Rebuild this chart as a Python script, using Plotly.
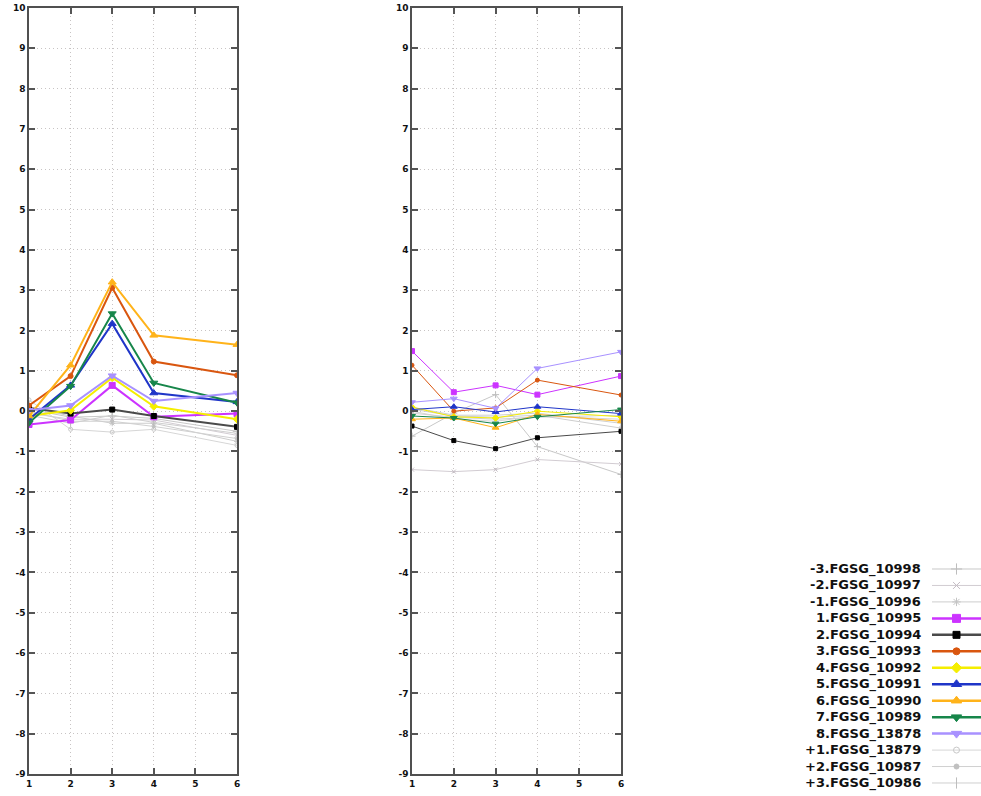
import plotly.graph_objects as go

# ---- data ----
x_pts = [1, 2, 3, 4, 6]

names = ["-3.FGSG_10998", "-2.FGSG_10997", "-1.FGSG_10996",
         "1.FGSG_10995", "2.FGSG_10994", "3.FGSG_10993", "4.FGSG_10992",
         "5.FGSG_10991", "6.FGSG_10990", "7.FGSG_10989", "8.FGSG_13878",
         "+1.FGSG_13879", "+2.FGSG_10987", "+3.FGSG_10986"]

left_vals = {
    "-3.FGSG_10998": [0.05, -0.15, -0.12, -0.18, -0.50],
    "-2.FGSG_10997": [-0.05, -0.20, -0.20, -0.22, -0.60],
    "-1.FGSG_10996": [0.10, -0.12, -0.30, -0.30, -0.75],
    "1.FGSG_10995": [-0.33, -0.22, 0.64, -0.14, -0.06],
    "2.FGSG_10994": [0.08, -0.06, 0.04, -0.12, -0.39],
    "3.FGSG_10993": [0.14, 0.87, 3.06, 1.23, 0.89],
    "4.FGSG_10992": [-0.12, 0.02, 0.83, 0.12, -0.20],
    "5.FGSG_10991": [-0.20, 0.64, 2.17, 0.45, 0.23],
    "6.FGSG_10990": [-0.12, 1.14, 3.20, 1.88, 1.65],
    "7.FGSG_10989": [-0.29, 0.62, 2.42, 0.70, 0.21],
    "8.FGSG_13878": [0.02, 0.14, 0.88, 0.25, 0.45],
    "+1.FGSG_13879": [0.28, -0.45, -0.52, -0.45, -0.85],
    "+2.FGSG_10987": [0.00, -0.25, -0.25, -0.38, -0.68],
    "+3.FGSG_10986": [-0.10, -0.30, -0.10, -0.28, -0.55],
}

right_vals = {
    "-3.FGSG_10998": [-0.62, -0.05, 0.41, -0.88, -1.57],
    "-2.FGSG_10997": [-1.45, -1.50, -1.45, -1.20, -1.31],
    "-1.FGSG_10996": [0.05, -0.12, -0.15, -0.10, -0.42],
    "1.FGSG_10995": [1.49, 0.47, 0.64, 0.41, 0.87],
    "2.FGSG_10994": [-0.37, -0.73, -0.93, -0.66, -0.50],
    "3.FGSG_10993": [1.14, 0.00, 0.08, 0.77, 0.40],
    "4.FGSG_10992": [0.10, -0.14, -0.17, 0.00, -0.14],
    "5.FGSG_10991": [0.04, 0.11, -0.02, 0.11, -0.06],
    "6.FGSG_10990": [-0.20, -0.17, -0.41, -0.08, -0.25],
    "7.FGSG_10989": [-0.12, -0.17, -0.31, -0.14, 0.04],
    "8.FGSG_13878": [0.22, 0.31, 0.07, 1.06, 1.47],
    "+1.FGSG_13879": [0.00, -0.20, -0.25, -0.12, -0.20],
    "+2.FGSG_10987": [-0.05, -0.15, -0.20, -0.15, -0.10],
    "+3.FGSG_10986": [0.10, -0.10, -0.10, -0.05, -0.30],
}

y_ticks = list(range(-9, 11))
x_ticks = [1, 2, 3, 4, 5, 6]

# ---- styles ----
style = {
    "-3.FGSG_10998": dict(line="#c8c8c8", marker="#bdbdbd", symbol="cross-thin-open", lw=1, ms=6, gray=True),
    "-2.FGSG_10997": dict(line="#d2ccd2", marker="#c4bcc4", symbol="x-thin-open", lw=1, ms=5, gray=True),
    "-1.FGSG_10996": dict(line="#cdcdcd", marker="#c4c4c4", symbol="asterisk-open", lw=1, ms=5, gray=True),
    "1.FGSG_10995": dict(line="#cc33ff", marker="#cc33ff", symbol="square", lw=2, ms=6, gray=False),
    "2.FGSG_10994": dict(line="#4a4a4a", marker="#000000", symbol="square", lw=2, ms=5, gray=False),
    "3.FGSG_10993": dict(line="#d9560f", marker="#d9560f", symbol="circle", lw=2, ms=5, gray=False),
    "4.FGSG_10992": dict(line="#f5ee00", marker="#f5ee00", symbol="diamond", lw=2, ms=6, gray=False),
    "5.FGSG_10991": dict(line="#1f35c8", marker="#1f35c8", symbol="triangle-up", lw=2, ms=7, gray=False),
    "6.FGSG_10990": dict(line="#ffb31a", marker="#ffb31a", symbol="triangle-up", lw=2, ms=7, gray=False),
    "7.FGSG_10989": dict(line="#17864a", marker="#17864a", symbol="triangle-down", lw=2, ms=7, gray=False),
    "8.FGSG_13878": dict(line="#a891ff", marker="#a891ff", symbol="triangle-down", lw=2, ms=7, gray=False),
    "+1.FGSG_13879": dict(line="#d6d6d6", marker="#c8c8c8", symbol="circle-open", lw=1, ms=4, gray=True),
    "+2.FGSG_10987": dict(line="#d0d0d0", marker="#c0c0c0", symbol="circle", lw=1, ms=3, gray=True),
    "+3.FGSG_10986": dict(line="#cfcfcf", marker="#bdbdbd", symbol="line-ns-open", lw=1, ms=6, gray=True),
}

fig = go.Figure()

draw_order = [n for n in names if style[n]["gray"]] + [n for n in names if not style[n]["gray"]]

for n in draw_order:
    s = style[n]
    fig.add_trace(go.Scatter(
        x=x_pts, y=left_vals[n], mode="lines+markers", xaxis="x", yaxis="y",
        line=dict(color=s["line"], width=s["lw"]),
        marker=dict(color=s["marker"], symbol=s["symbol"], size=s["ms"],
                    line=dict(color=s["marker"], width=1)),
        showlegend=False, name=n))
    fig.add_trace(go.Scatter(
        x=x_pts, y=right_vals[n], mode="lines+markers", xaxis="x2", yaxis="y2",
        line=dict(color=s["line"], width=1),
        marker=dict(color=s["marker"], symbol=s["symbol"], size=max(s["ms"] - 1, 3),
                    line=dict(color=s["marker"], width=1)),
        showlegend=False, name=n))

W, H = 981, 796

def fx(px):
    return px / W

def fy(py):
    return 1 - py / H

# ---- custom legend (text left, sample right) ----
for i, n in enumerate(names):
    s = style[n]
    fig.add_trace(go.Scatter(
        x=[0, 0.5, 1], y=[i, i, i], mode="lines", xaxis="x3", yaxis="y3",
        line=dict(color=s["line"], width=s["lw"] + (0.5 if not s["gray"] else 0)),
        showlegend=False, hoverinfo="skip"))
    fig.add_trace(go.Scatter(
        x=[0.5], y=[i], mode="markers", xaxis="x3", yaxis="y3",
        marker=dict(color=s["marker"], symbol=s["symbol"], size=s["ms"] + 2,
                    line=dict(color=s["marker"], width=1)),
        showlegend=False, hoverinfo="skip"))
    fig.add_annotation(text=n, x=fx(923), xref="paper", xanchor="right",
                       y=i, yref="y3", yanchor="middle", showarrow=False,
                       font=dict(family="DejaVu Sans", size=13, color="#111111", weight="bold"))

tickfont = dict(family="DejaVu Sans", size=9, color="#111111", weight="bold")
axis_common = dict(showline=True, linecolor="#505050", linewidth=1.5, mirror="ticks",
                   ticks="inside", ticklen=6, tickwidth=1.5, tickcolor="#555555",
                   showgrid=True, gridcolor="#c8c4c4", griddash="1px,3px", gridwidth=1,
                   zeroline=False, tickfont=tickfont, automargin=False)

def xaxis_cfg(domain, anchor):
    return dict(domain=domain, anchor=anchor, range=[1, 6], tickvals=x_ticks,
                ticktext=[str(v) for v in x_ticks], **axis_common)

def yaxis_cfg(anchor):
    return dict(domain=[fy(774), fy(8)], anchor=anchor, range=[-9, 10], tickvals=y_ticks,
                ticktext=[str(v) for v in y_ticks], **axis_common)

n_rows = len(names)
row_top = 569
row_bot = 783
step = (row_bot - row_top) / (n_rows - 1)

fig.update_layout(
    width=W, height=H,
    margin=dict(l=0, r=0, t=0, b=0, pad=0, autoexpand=False),
    paper_bgcolor="white", plot_bgcolor="white",
    xaxis=xaxis_cfg([fx(29), fx(237)], "y"),
    yaxis=yaxis_cfg("x"),
    xaxis2=xaxis_cfg([fx(412), fx(621)], "y2"),
    yaxis2=yaxis_cfg("x2"),
    xaxis3=dict(domain=[fx(932), 1.0], anchor="y3", range=[0, 1], visible=False, automargin=False),
    yaxis3=dict(domain=[fy(row_bot + step / 2), fy(row_top - step / 2)], anchor="x3",
                range=[n_rows - 0.5, -0.5], visible=False, automargin=False),
    showlegend=False,
)

fig.write_html("out.html", config={"displayModeBar": False},
               post_script="document.body.style.margin='0';document.body.style.overflow='hidden';")
